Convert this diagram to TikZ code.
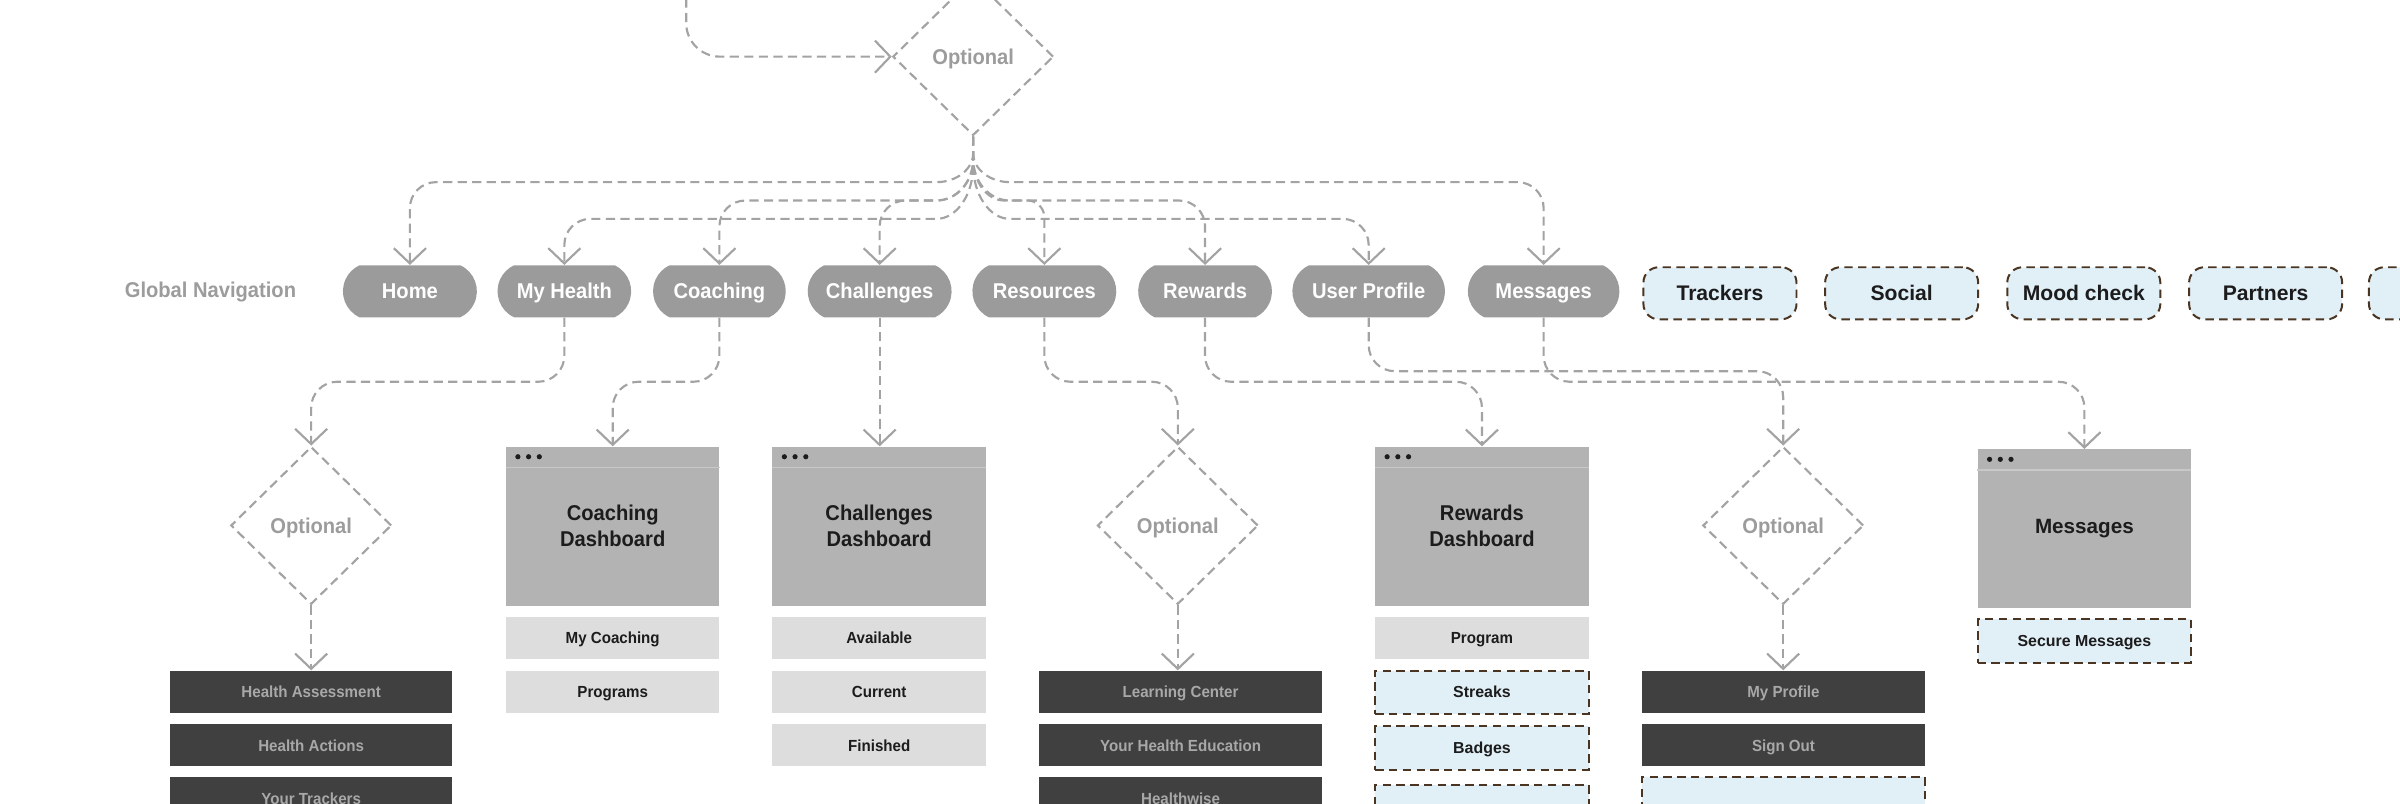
\documentclass[tikz,border=0pt]{standalone}
\usepackage{fontspec}
\setmainfont{Liberation Sans}[FakeStretch=0.94]
\newfontfamily\arialf{Liberation Sans}
\usetikzlibrary{arrows.meta,shapes.geometric,shapes.misc}
\definecolor{cLine}{HTML}{A3A3A3}
\definecolor{cNav}{HTML}{9B9B9B}
\definecolor{cLabel}{HTML}{9C9C9C}
\definecolor{cDash}{HTML}{B3B3B3}
\definecolor{cSep}{HTML}{C8C8C8}
\definecolor{cLight}{HTML}{DDDDDD}
\definecolor{cDark}{HTML}{404040}
\definecolor{cDarkText}{HTML}{A8A8A8}
\definecolor{cBlue}{HTML}{E1EFF7}
\definecolor{cBrown}{HTML}{4A3522}
\definecolor{cInk}{HTML}{1C1C1C}
\newcommand\fbig{\bfseries\fontsize{14}{17}\selectfont}
\newcommand\fsmall{\bfseries\fontsize{10.5}{12}\selectfont}
\tikzset{
  conn/.style={draw=cLine, line width=1.4pt, dash pattern=on 6pt off 3.5pt,
    -{Straight Barb[length=10pt,width=21pt]}},
  bigtext/.style={font=\fbig, text height=11pt, text depth=1pt},
  smalltext/.style={font=\fsmall, text height=8.5pt, text depth=1pt},
  nav/.style={rounded rectangle, rounded rectangle arc length=130, fill=cNav,
    text=white, bigtext, minimum height=34pt, inner sep=0pt},
  bluepill/.style={rectangle, rounded corners=10pt, fill=cBlue, draw=cBrown,
    line width=1.3pt, dash pattern=on 5.5pt off 3.5pt, text=cInk,
    font=\arialf\bfseries\fontsize{13.8}{16}\selectfont, text height=10.9pt, text depth=1pt,
    minimum width=100pt, minimum height=34pt, inner sep=0pt},
  opt/.style={diamond, draw=cLine, line width=1.4pt, dash pattern=on 6pt off 3.5pt,
    minimum width=105pt, minimum height=103pt, inner sep=0pt, text=cLabel, bigtext},
  dashbox/.style={rectangle, fill=cDash, minimum width=139.5pt, minimum height=104pt,
    inner sep=0pt, align=center, text=cInk, font=\fbig},
  lightbox/.style={rectangle, fill=cLight, minimum width=139.5pt, minimum height=27.5pt,
    inner sep=0pt, text=cInk, smalltext},
  darkbox/.style={rectangle, fill=cDark, minimum width=184.5pt, minimum height=27.5pt,
    inner sep=0pt, text=cDarkText, smalltext},
  bluebox/.style={rectangle, fill=cBlue, draw=cBrown, line width=1.3pt,
    dash pattern=on 5.5pt off 3.5pt, minimum width=139.5pt, minimum height=28.3pt,
    inner sep=0pt, text=cInk, font=\arialf\bfseries\fontsize{10.4}{12}\selectfont,
    text height=8.4pt, text depth=1pt},
}
\begin{document}
\begin{tikzpicture}[x=1pt,y=-1pt]
\useasboundingbox (0,0) rectangle (1568,525);
\clip (0,0) rectangle (1568,525);
% levels
\coordinate (lvA) at (0,119);
\coordinate (lvB) at (0,131);
\coordinate (lvC) at (0,143);
\coordinate (lvD) at (0,249.4);
\coordinate (lvE) at (0,242.5);
% top diamond
\node[opt] (d0) at (635.8,37) {Optional};
\coordinate (src) at (448.3,-20);
% global nav
\node[bigtext, text=cLabel] (gn) at (137.5,189.5) {Global Navigation};
\node[nav, minimum width=87.5pt] (home) at (267.8,190.3) {Home};
\node[nav, minimum width=87.3pt] (mh) at (368.7,190.3) {My Health};
\node[nav, minimum width=86.7pt] (coach) at (470,190.3) {Coaching};
\node[nav, minimum width=94pt] (chal) at (574.7,190.3) {Challenges};
\node[nav, minimum width=94pt] (res) at (682.3,190.3) {Resources};
\node[nav, minimum width=87.4pt] (rew) at (787.3,190.3) {Rewards};
\node[nav, minimum width=99.7pt] (up) at (894.2,190.3) {User Profile};
\node[nav, minimum width=99pt] (msg) at (1008.5,190.3) {Messages};
\node[bluepill] (trk) at (1123.7,191.6) {Trackers};
\node[bluepill] (soc) at (1242.4,191.6) {Social};
\node[bluepill] (mood) at (1361.4,191.6) {Mood check};
\node[bluepill] (part) at (1480.2,191.6) {Partners};
\node[bluepill] (more) at (1597.7,191.6) {};
% second row
\node[opt] (d1) at (203.3,343.3) {Optional};
\node[dashbox] (cd) at (400.3,343.8) {Coaching\\Dashboard};
\node[dashbox] (chd) at (574.4,343.8) {Challenges\\Dashboard};
\node[opt] (d3) at (769.5,343.3) {Optional};
\node[dashbox] (rd) at (968.2,343.8) {Rewards\\Dashboard};
\node[opt] (d4) at (1165,343.3) {Optional};
\node[dashbox, font=\arialf\bfseries\fontsize{13.5}{16}\selectfont] (md) at (1361.8,345.5) {Messages};
% bars and dots on dashboards
\foreach \b in {cd,chd,rd,md}{
  \draw[cSep, line width=0.8pt] ([yshift=-13.7pt]\b.north west) -- ([yshift=-13.7pt]\b.north east);
  \foreach \dx in {8,15,22}{
    \fill[cInk] ([xshift=\dx pt, yshift=-6.8pt]\b.north west) circle[radius=1.7pt];
  }
}
% sub items
\node[darkbox] (ha) at (203.3,451.9) {Health Assessment};
\node[darkbox] (hac) at (203.3,486.9) {Health Actions};
\node[darkbox] (yt) at (203.3,521.6) {Your Trackers};
\node[lightbox] (myc) at (400.3,416.9) {My Coaching};
\node[lightbox] (prg) at (400.3,451.9) {Programs};
\node[lightbox] (avl) at (574.4,416.9) {Available};
\node[lightbox] (cur) at (574.4,451.9) {Current};
\node[lightbox] (fin) at (574.4,486.9) {Finished};
\node[darkbox] (lc) at (771.3,451.9) {Learning Center};
\node[darkbox] (yhe) at (771.3,486.9) {Your Health Education};
\node[darkbox] (hw) at (771.3,521.6) {Healthwise};
\node[lightbox] (prog) at (968.2,416.9) {Program};
\node[bluebox] (stk) at (968.2,452.3) {Streaks};
\node[bluebox] (bdg) at (968.2,488.6) {Badges};
\node[bluebox] (rx) at (968.2,527) {};
\node[darkbox] (mp) at (1165.2,451.9) {My Profile};
\node[darkbox] (so) at (1165.2,486.9) {Sign Out};
\node[bluebox, minimum width=184.5pt] (ux) at (1165.2,521.6) {};
\node[bluebox] (sm) at (1361.8,418.8) {Secure Messages};
% connectors: top
\draw[conn, rounded corners=22pt] (src) -- (src |- d0.west) -- (d0.west);
\draw[conn] (d0.south) -- (635.8,100) .. controls (635.8,110.5) and (625,119) .. (611.8,119) [rounded corners=17pt] -- (home.north |- lvA) -- (home.north);
\draw[conn] (d0.south) -- (635.8,100) .. controls (635.8,110.5) and (646.6,119) .. (659.8,119) [rounded corners=17pt] -- (msg.north |- lvA) -- (msg.north);
\draw[conn] (d0.south) -- (635.8,104) .. controls (635.8,118.9) and (625,131) .. (611.8,131) [rounded corners=17pt] -- (coach.north |- lvB) -- (coach.north);
\draw[conn] (d0.south) -- (635.8,104) .. controls (635.8,118.9) and (646.6,131) .. (659.8,131) [rounded corners=17pt] -- (rew.north |- lvB) -- (rew.north);
\draw[conn] (d0.south) -- (635.8,104) .. controls (635.8,118.9) and (625,131) .. (611.8,131) [rounded corners=17pt] -- (chal.north |- lvB) -- (chal.north);
\draw[conn] (d0.south) -- (635.8,104) .. controls (635.8,118.9) and (645,131) .. (656,131) [rounded corners=11pt] -- (res.north |- lvB) -- (res.north);
\draw[conn] (d0.south) -- (635.8,108) .. controls (635.8,127.3) and (625,143) .. (611.8,143) [rounded corners=17pt] -- (mh.north |- lvC) -- (mh.north);
\draw[conn] (d0.south) -- (635.8,108) .. controls (635.8,127.3) and (646.6,143) .. (659.8,143) [rounded corners=17pt] -- (up.north |- lvC) -- (up.north);
% connectors: nav to pages
\begin{scope}[rounded corners=17pt]
\draw[conn] (mh.south) -- (mh.south |- lvD) -- (d1.north |- lvD) -- (d1.north);
\draw[conn] (coach.south) -- (coach.south |- lvD) -- (cd.north |- lvD) -- (cd.north);
\draw[conn] (chal.south) -- (chal.south |- chd.north);
\draw[conn] (res.south) -- (res.south |- lvD) -- (d3.north |- lvD) -- (d3.north);
\draw[conn] (rew.south) -- (rew.south |- lvD) -- (rd.north |- lvD) -- (rd.north);
\draw[conn] (up.south) -- (up.south |- lvE) -- (d4.north |- lvE) -- (d4.north);
\draw[conn] (msg.south) -- (msg.south |- lvD) -- (md.north |- lvD) -- (md.north);
\end{scope}
% diamonds to lists
\draw[conn] (d1.south) -- (d1.south |- ha.north);
\draw[conn] (d3.south) -- (d3.south |- lc.north);
\draw[conn] (d4.south) -- (d4.south |- mp.north);
\end{tikzpicture}
\end{document}
